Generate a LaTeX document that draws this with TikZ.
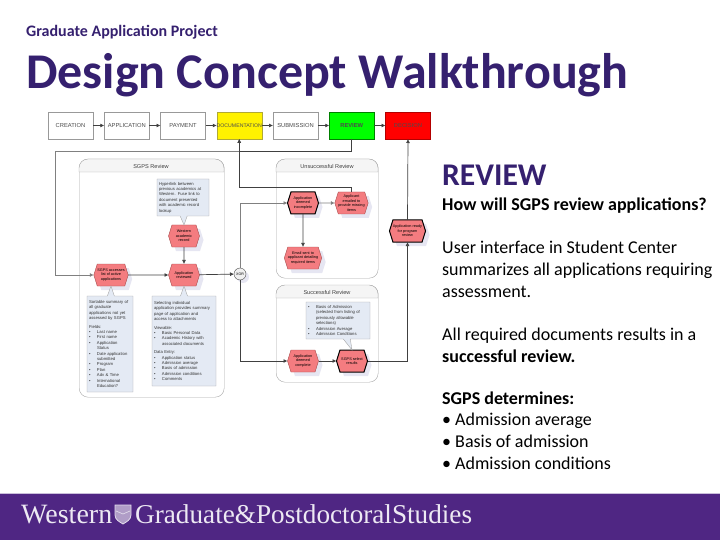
\documentclass[tikz,border=0pt]{standalone}
\usepackage{fontspec}
\setmainfont{Carlito}
\newfontfamily\chartfont{Liberation Sans}
\newfontfamily\crestfont{Liberation Serif}
\usetikzlibrary{positioning}
\usetikzlibrary{shapes.symbols}
\usetikzlibrary{shapes.callouts}
\usetikzlibrary{shadows}
\usetikzlibrary{arrows.meta}
\definecolor{westpurple}{HTML}{4F2683}
\definecolor{titlepurple}{HTML}{35206F}
\definecolor{taskred}{HTML}{F47C80}
\definecolor{notefill}{HTML}{E4EAF4}
\newcommand{\bul}{\makebox[8pt][l]{•}}
\newcommand{\nobul}{\hspace*{8pt}}

\begin{document}
\begin{tikzpicture}[
        x = 1pt,
        y = -1pt,
        stagebox/.style = {
            draw = gray!80,
            fill = #1,
            minimum width = 45pt,
            minimum height = 27pt,
            inner sep = 0pt,
            outer sep = 0pt,
            font = \chartfont\fontsize{5.8}{7}\selectfont,
            text = black!70
        },
        stagebox/.default = white,
        task/.style = {
            signal,
            signal to = east and west,
            signal pointer angle = 145,
            draw = red!50!black!70,
            fill = taskred,
            minimum width = 31pt,
            minimum height = 22pt,
            inner sep = 0pt,
            outer sep = 0pt,
            align = center,
            font = \chartfont\fontsize{3.8}{4.6}\selectfont,
            drop shadow = {shadow xshift=4pt, shadow yshift=-4pt, fill=blue!30!gray!25, opacity=0.6}
        },
        keytask/.style = {task, draw = black, line width = 1pt},
        note/.style = {
            rectangle callout,
            callout pointer width = 7pt,
            draw = gray!70,
            fill = notefill,
            inner sep = 2pt,
            outer sep = 0pt,
            align = left,
            anchor = north west,
            font = \chartfont\fontsize{4.2}{5.4}\selectfont,
            text = black!80
        },
        lane/.style = {
            draw = gray!70,
            rounded corners = 9pt,
            anchor = north west,
            inner sep = 0pt
        },
        lanehead/.style = {
            draw = gray!70,
            fill = gray!8
        },
        lanetitle/.style = {
            font = \chartfont\fontsize{5.6}{7}\selectfont,
            text = black!75
        },
        flow/.style = {
            draw = black!75,
            line width = 0.7pt,
            -{Latex[length=4pt, width=4pt]}
        },
        flowlite/.style = {
            draw = gray,
            line width = 0.7pt,
            -{Latex[length=4pt, width=4pt]}
        },
        bodytext/.style = {
            anchor = base west,
            align = left,
            inner sep = 0pt,
            font = \fontsize{18}{21.6}\selectfont,
            text = black
        },
        node distance = {11.25pt}
    ]
    \useasboundingbox (0,0) rectangle (720,540);

    % heading
    \node[anchor=base west, inner sep=0pt, text=titlepurple, font=\fontsize{16}{18}\selectfont\bfseries] (project) at (26,37) {Graduate Application Project};
    \node[anchor=base west, inner sep=0pt, text=titlepurple, font=\fontsize{50}{52}\selectfont\bfseries] (heading) at (26,89) {Design Concept Walkthrough};

    % stages
    \node[stagebox, anchor=north west] (create) at (48,112) {CREATION};
    \node[stagebox, right=of create] (appl) {APPLICATION};
    \node[stagebox, right=of appl] (pay) {PAYMENT};
    \node[stagebox=yellow, right=of pay, draw=olive!70] (doc) {\makebox[45pt]{\fontsize{5.2}{7}\selectfont DOCUMENTATION}};
    \node[stagebox, right=of doc] (subm) {SUBMISSION};
    \node[stagebox=green, right=of subm, draw=green!50!black] (rev) {\textbf{REVIEW}};
    \node[stagebox=red, right=of rev, draw=red!70!black] (dec) {DECISION};

    % lanes
    \node[lane, minimum width=145pt, minimum height=238pt] (sgpslane) at (79,159) {};
    \draw[lanehead] (79,172) [rounded corners=9pt] -- (79,159) -- (224,159) [sharp corners] -- (224,172) -- cycle;
    \node[lanetitle] (sgpstitle) at (151,166) {SGPS Review};
    \node[lane, minimum width=102pt, minimum height=119pt] (faillane) at (276,159) {};
    \draw[lanehead] (276,172) [rounded corners=9pt] -- (276,159) -- (378,159) [sharp corners] -- (378,172) -- cycle;
    \node[lanetitle] (failtitle) at (327,166) {Unsuccessful Review};
    \node[lane, minimum width=102pt, minimum height=97pt] (oklane) at (276,285) {};
    \draw[lanehead] (276,298) [rounded corners=9pt] -- (276,285) -- (378,285) [sharp corners] -- (378,298) -- cycle;
    \node[lanetitle] (oktitle) at (327,292) {Successful Review};

    % tasks
    \node[task] (wes) at (184,236) {Western\\academic\\record};
    \node[task] (sum) at (111,275) {SGPS accesses\\list of active\\applications};
    \node[task] (app) at (184,275) {Application\\reviewed};
    \node[draw=black!70, fill=gray!12, circle, minimum size=12pt, inner sep=0pt, outer sep=0pt,
        font=\chartfont\fontsize{3.6}{4.4}\selectfont,
        drop shadow={shadow xshift=3pt, shadow yshift=-3pt, fill=blue!30!gray!25, opacity=0.6}] (xor) at (240,274) {XOR};
    \node[keytask] (inc) at (303,203) {Application\\deemed\\incomplete};
    \node[task] (mail) at (351.5,203) {Applicant\\emailed to\\provide missing\\items};
    \node[task, below=33pt of inc] (sent) {Email sent to\\applicant detailing\\required items};
    \node[keytask] (ready) at (407.5,231) {Application ready\\for program\\review};
    \node[task] (comp) at (303,361) {Application\\deemed\\complete};
    \node[keytask] (sel) at (352,361) {SGPS select\\results};

    % notes
    \node[note, text width=48pt, minimum height=37pt, callout absolute pointer=(wes.north)] (wesnote) at (157,179) {Hyperlink between\\previous academics at\\Western. Fuse link to\\document presented\\with academic record\\lookup};
    \node[note, text width=42pt, minimum height=96pt, callout absolute pointer=(sum.south)] (sumnote) at (87,296) {Sortable summary of\\all graduate\\applications not yet\\assessed by SGPS\\[3pt]
        Fields:\\\bul Last name\\\bul First name\\\bul Application\\\nobul Status\\\bul Date application\\\nobul submitted\\\bul Program\\\bul Plan\\\bul Adv \& Time\\\bul International\\\nobul Education?};
    \node[note, text width=60pt, minimum height=90pt, callout absolute pointer=(app.south)] (appnote) at (152,296) {Selecting individual\\application provides summary\\page of application and\\access to attachments\\[3pt]
        Viewable:\\\bul Basic Personal Data\\\bul Academic History with\\\nobul associated documents\\[3pt]
        Data Entry:\\\bul Application status\\\bul Admission average\\\bul Basis of admission\\\bul Admission conditions\\\bul Comments};
    \node[note, text width=60pt, minimum height=37pt, callout absolute pointer=(sel.north)] (selnote) at (306,302) {\bul Basis of Admission\\\nobul (selected from listing of\\\nobul previously allowable\\\nobul selections)\\\bul Admission Average\\\bul Admission Conditions};

    % connectors
    \draw[flow] (create) -- (appl);
    \draw[flow] (appl) -- (pay);
    \draw[flow] (pay) -- (doc);
    \draw[flow] (doc) -- (subm);
    \draw[flow] (subm) -- (rev);
    \draw[flow] (rev) -- (dec);

    \coordinate (bend) at (doc.south |- 0,151);
    \coordinate (corner) at (55,151);
    \draw[flow] (rev.south) |- (bend) -- (doc.south);
    \draw[flowlite] (bend) -- (corner) |- (sum.west);
    \draw[flow] (sum) -- (app);
    \draw[flow] (wes) -- (app);
    \draw[flow] (app) -- (xor);
    \draw[flowlite] (xor) |- (inc);
    \draw[flow] (xor) |- (comp);
    \draw[flowlite] (inc) -- (mail);
    \draw[flow] (inc) -- (sent);
    \coordinate (turn) at (mail.north |- 0,187);
    \draw[flow] (mail.north) -- (turn) -| (doc.south);
    \draw[flow] (comp) -- (sel);
    \draw[flow] (sel.east) -| (ready.south);
    \draw[flow] (ready.north) -- (dec.south);

    % right column
    \node[anchor=base west, inner sep=0pt, text=titlepurple, font=\fontsize{31.6}{33}\selectfont\bfseries] (revhead) at (442,186) {REVIEW};
    \node[bodytext] (question) at (442,211) {\bfseries How will SGPS review applications?};
    \node[bodytext] (ui) at (442,297) {User interface in Student Center\\summarizes all applications requiring\\assessment.};
    \node[bodytext] (docs) at (442,362) {All required documents results in a\\\textbf{successful review.}};
    \node[bodytext] (deter) at (442,469) {\textbf{SGPS determines:}\\• Admission average\\• Basis of admission\\• Admission conditions};

    % footer
    \fill[westpurple] (0,494) rectangle (720,540);
    \draw[westpurple!30, line width=0.6pt] (0,493.7) -- (720,493.7);
    \node[anchor=base west, inner sep=0pt, text=white!90!westpurple, font=\crestfont\fontsize{28}{30}\selectfont] (west) at (21,523) {Western};
    \draw[white!85!westpurple, line width=0.8pt, fill=westpurple!45] (115,505) -- (131,505) -- (131,515) .. controls (131,520) and (126,522) .. (123,524) .. controls (120,522) and (115,520) .. (115,515) -- cycle;
    \draw[white!85!westpurple, line width=0.6pt] (116,511) -- (123,514) -- (130,511);
    \node[anchor=base west, inner sep=0pt, text=white!90!westpurple, font=\crestfont\fontsize{27.2}{29}\selectfont] (gps) at (135,523) {Graduate\&Postdoctoral\hspace{0pt}Studies};
\end{tikzpicture}
\end{document}
